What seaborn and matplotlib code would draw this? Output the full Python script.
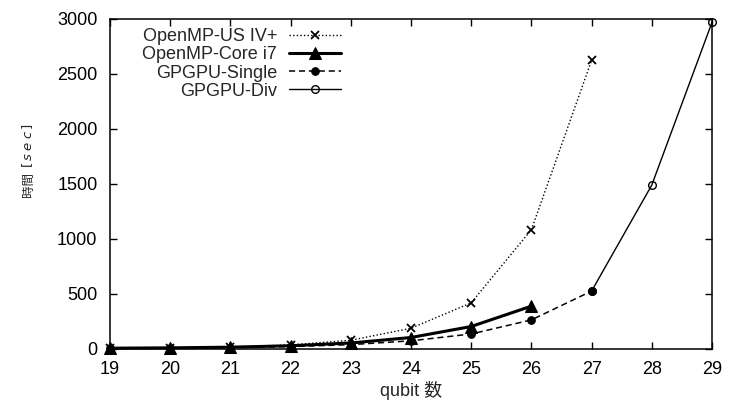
import matplotlib
matplotlib.use("Agg")
import matplotlib.pyplot as plt
import seaborn as sns
import numpy as np
import pandas as pd

# ---- data ----
qubits = [19, 20, 21, 22, 23, 24, 25, 26, 27, 28, 29]
us_x = [19, 20, 21, 22, 23, 24, 25, 26, 27]
us_y = [3, 6, 14, 33, 75, 184, 415, 1080, 2620]
i7_x = [19, 20, 21, 22, 23, 24, 25, 26]
i7_y = [3, 6, 12, 25, 50, 100, 200, 385]
single_x = [19, 20, 21, 22, 23, 24, 25, 26, 27]
single_y = [2, 4, 9, 17, 35, 70, 132, 260, 522]
div_x = [27, 28, 29]
div_y = [522, 1486, 2965]
labels = ["OpenMP-US IV+", "OpenMP-Core i7", "GPGPU-Single", "GPGPU-Div"]
yticks = [0, 500, 1000, 1500, 2000, 2500, 3000]

sns.set_theme(style="ticks")
plt.rcParams["font.family"] = ["Liberation Sans", "Noto Sans CJK JP", "DejaVu Sans"]
plt.rcParams["mathtext.fontset"] = "dejavusans"

fig = plt.figure(figsize=(7.29, 4.03), dpi=100)
ax = fig.add_axes([110 / 729, 1 - 348.5 / 403, (712 - 110) / 729, (348.5 - 18.5) / 403])

sns.lineplot(x=us_x, y=us_y, ax=ax, color="black", lw=1.0,
             linestyle=(0, (1, 1.6)), marker="x", markersize=6, markeredgewidth=1.3,
             markeredgecolor="black", label=labels[0], clip_on=False)
sns.lineplot(x=i7_x, y=i7_y, ax=ax, color="black", lw=2.2, linestyle="-",
             marker="^", markersize=8, markeredgecolor="black", label=labels[1],
             clip_on=False)
sns.lineplot(x=single_x, y=single_y, ax=ax, color="black", lw=1.1,
             linestyle=(0, (4, 2.5)), marker="o", markersize=5.5,
             markeredgecolor="black", label=labels[2], clip_on=False)
sns.lineplot(x=div_x, y=div_y, ax=ax, color="black", lw=1.0, linestyle="-",
             marker="o", markersize=5.5, markerfacecolor="none",
             markeredgecolor="black", markeredgewidth=1.0, label=labels[3],
             clip_on=False)

ax.set_xlim(19, 29)
ax.set_ylim(0, 3000)
ax.set_xticks(qubits)
ax.set_yticks(yticks)
ax.tick_params(direction="in", length=5, width=1, top=True, right=True,
               labelsize=13, colors="black")
ax.tick_params(axis="x", pad=9)
ax.tick_params(axis="y", pad=9)
for s in ax.spines.values():
    s.set_visible(True)
    s.set_color("black")
    s.set_linewidth(1.1)

ax.set_xlabel("qubit 数", fontsize=13, labelpad=2)
ax.set_ylabel("")
fig.text(28 / 729, 1 - 184.5 / 403, "時間", rotation=90,
         ha="center", va="center", fontsize=9,
         family=["Noto Sans CJK JP", "DejaVu Sans"])
fig.text(28 / 729, 1 - 145 / 403, "$[\\,s\\;e\\;c\\,]$", rotation=90,
         ha="center", va="center", fontsize=9.5)

leg = ax.legend(loc="upper right", bbox_to_anchor=(341 / 729, 1 - 28 / 403),
                bbox_transform=fig.transFigure, frameon=False, markerfirst=False,
                fontsize=13, handlelength=2.88, handletextpad=0.66,
                labelspacing=0.07, borderpad=0, borderaxespad=0)

fig.savefig("out.png", dpi=100, facecolor="white")
